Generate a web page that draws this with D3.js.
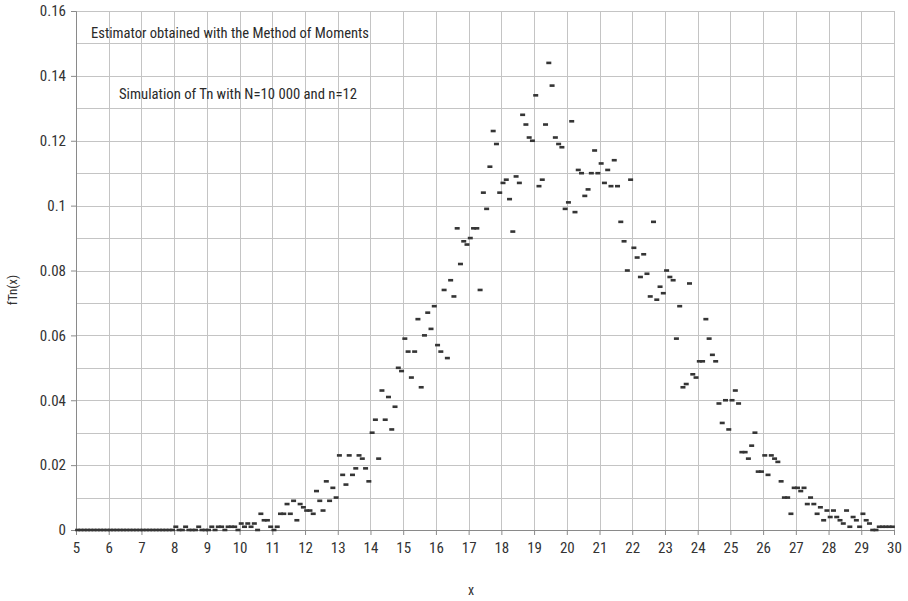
<!DOCTYPE html>
<html><head><meta charset="utf-8">
<script src="https://cdn.jsdelivr.net/npm/d3@7"></script>
<style>body{margin:0;background:#fff} svg{display:block}</style>
</head><body><svg id="c" width="908" height="601"></svg>
<script>
// bin centres of the simulated estimator (bins of width 0.1 from 5 to 30)
const binCenters = [
 5.05,5.15,5.25,5.35,5.45,5.55,5.65,5.75,5.85,5.95,
 6.05,6.15,6.25,6.35,6.45,6.55,6.65,6.75,6.85,6.95,
 7.05,7.15,7.25,7.35,7.45,7.55,7.65,7.75,7.85,7.95,
 8.05,8.15,8.25,8.35,8.45,8.55,8.65,8.75,8.85,8.95,
 9.05,9.15,9.25,9.35,9.45,9.55,9.65,9.75,9.85,9.95,
 10.05,10.15,10.25,10.35,10.45,10.55,10.65,10.75,10.85,10.95,
 11.05,11.15,11.25,11.35,11.45,11.55,11.65,11.75,11.85,11.95,
 12.05,12.15,12.25,12.35,12.45,12.55,12.65,12.75,12.85,12.95,
 13.05,13.15,13.25,13.35,13.45,13.55,13.65,13.75,13.85,13.95,
 14.05,14.15,14.25,14.35,14.45,14.55,14.65,14.75,14.85,14.95,
 15.05,15.15,15.25,15.35,15.45,15.55,15.65,15.75,15.85,15.95,
 16.05,16.15,16.25,16.35,16.45,16.55,16.65,16.75,16.85,16.95,
 17.05,17.15,17.25,17.35,17.45,17.55,17.65,17.75,17.85,17.95,
 18.05,18.15,18.25,18.35,18.45,18.55,18.65,18.75,18.85,18.95,
 19.05,19.15,19.25,19.35,19.45,19.55,19.65,19.75,19.85,19.95,
 20.05,20.15,20.25,20.35,20.45,20.55,20.65,20.75,20.85,20.95,
 21.05,21.15,21.25,21.35,21.45,21.55,21.65,21.75,21.85,21.95,
 22.05,22.15,22.25,22.35,22.45,22.55,22.65,22.75,22.85,22.95,
 23.05,23.15,23.25,23.35,23.45,23.55,23.65,23.75,23.85,23.95,
 24.05,24.15,24.25,24.35,24.45,24.55,24.65,24.75,24.85,24.95,
 25.05,25.15,25.25,25.35,25.45,25.55,25.65,25.75,25.85,25.95,
 26.05,26.15,26.25,26.35,26.45,26.55,26.65,26.75,26.85,26.95,
 27.05,27.15,27.25,27.35,27.45,27.55,27.65,27.75,27.85,27.95,
 28.05,28.15,28.25,28.35,28.45,28.55,28.65,28.75,28.85,28.95,
 29.05,29.15,29.25,29.35,29.45,29.55,29.65,29.75,29.85,29.95
];
// estimated density fTn(x)
const density = [
 0,0,0,0,0,0,0,0,0,0,
 0,0,0,0,0,0,0,0,0,0,
 0,0,0,0,0,0,0,0,0,0,
 0.001,0,0,0.001,0,0,0,0.001,0,0,
 0,0.001,0,0.001,0.001,0,0.001,0.001,0.001,0,
 0.002,0.001,0.002,0.001,0.002,0,0.005,0.003,0.003,0.001,
 0,0.001,0.005,0.005,0.008,0.005,0.009,0.003,0.008,0.007,
 0.006,0.006,0.005,0.012,0.009,0.006,0.015,0.009,0.013,0.010,
 0.023,0.017,0.014,0.023,0.017,0.019,0.023,0.022,0.019,0.015,
 0.030,0.034,0.022,0.043,0.034,0.041,0.031,0.038,0.050,0.049,
 0.059,0.055,0.047,0.055,0.065,0.044,0.060,0.067,0.062,0.069,
 0.057,0.055,0.074,0.053,0.077,0.072,0.093,0.082,0.089,0.088,
 0.090,0.093,0.093,0.074,0.104,0.099,0.112,0.123,0.119,0.104,
 0.107,0.108,0.102,0.092,0.109,0.107,0.128,0.125,0.121,0.120,
 0.134,0.106,0.108,0.125,0.144,0.137,0.121,0.119,0.118,0.099,
 0.101,0.126,0.098,0.111,0.110,0.103,0.105,0.110,0.117,0.110,
 0.113,0.107,0.111,0.106,0.114,0.106,0.095,0.089,0.080,0.108,
 0.087,0.084,0.078,0.085,0.079,0.072,0.095,0.071,0.075,0.073,
 0.080,0.078,0.077,0.059,0.069,0.044,0.045,0.076,0.048,0.047,
 0.052,0.052,0.065,0.059,0.054,0.052,0.039,0.033,0.040,0.031,
 0.040,0.043,0.039,0.024,0.024,0.022,0.026,0.030,0.018,0.018,
 0.023,0.017,0.023,0.022,0.021,0.015,0.010,0.010,0.005,0.013,
 0.013,0.012,0.013,0.008,0.010,0.008,0.005,0.007,0.003,0.006,
 0.004,0.006,0.004,0.003,0.002,0.006,0.001,0.004,0.003,0.001,
 0.005,0.003,0.002,0,0,0.001,0.001,0.001,0.001,0.001
];
const xTicks = [5,6,7,8,9,10,11,12,13,14,15,16,17,18,19,20,21,22,23,24,25,26,27,28,29,30];
const yTicks = [0,0.02,0.04,0.06,0.08,0.1,0.12,0.14,0.16];
const yGrid = [0,0.01,0.02,0.03,0.04,0.05,0.06,0.07,0.08,0.09,0.1,0.11,0.12,0.13,0.14,0.15,0.16];
const yTickLabels = ["0","0.02","0.04","0.06","0.08","0.1","0.12","0.14","0.16"];
const titleText = "Estimator obtained with the Method of Moments";
const subtitleText = "Simulation of Tn with N=10 000 and n=12";
const xTitle = "x";
const yTitle = "fTn(x)";

const FONT = "'Liberation Sans Narrow','Roboto Condensed','DejaVu Sans Condensed','Liberation Sans',sans-serif";
const svg = d3.select("#c");
svg.append("rect").attr("width",908).attr("height",601).attr("fill","#fff");

const x = d3.scaleLinear().domain([5,30]).range([76,894]);
const y = d3.scaleLinear().domain([0,0.16]).range([530,11]);

const grid = svg.append("g").attr("shape-rendering","crispEdges");
grid.selectAll("line.h").data(yGrid).join("line")
  .attr("x1",x(5)).attr("x2",x(30))
  .attr("y1",d=>Math.round(y(d))+0.5).attr("y2",d=>Math.round(y(d))+0.5)
  .attr("stroke","#c4c4c4").attr("stroke-width",1);
grid.selectAll("line.v").data(xTicks).join("line")
  .attr("x1",d=>Math.round(x(d))+0.5).attr("x2",d=>Math.round(x(d))+0.5)
  .attr("y1",y(0.16)).attr("y2",y(0))
  .attr("stroke","#c4c4c4").attr("stroke-width",1);

// axes
const xAxis = d3.axisBottom(x).tickValues(xTicks).tickSize(5).tickPadding(7).tickFormat(d3.format("d"));
const gx = svg.append("g").attr("transform",`translate(0,${y(0)})`).call(xAxis);
const yAxis = d3.axisLeft(y).tickValues(yTicks).tickSize(5).tickPadding(5)
  .tickFormat((d,i)=>yTickLabels[i]);
const gy = svg.append("g").attr("transform",`translate(${x(5)},0)`).call(yAxis);
[gx,gy].forEach(g=>{
  g.select(".domain").attr("stroke","#8a8a8a");
  g.selectAll(".tick line").attr("stroke","#8a8a8a");
  g.selectAll(".tick text").attr("font-family",FONT).attr("font-size",15).attr("fill","#333");
});

// markers (short dashes)
svg.append("g").selectAll("rect").data(density).join("rect")
  .attr("x",(d,i)=>x(binCenters[i])-2.5)
  .attr("y",d=>y(d)-1.3)
  .attr("width",5).attr("height",2.6)
  .attr("fill","#353535");

// texts
svg.append("text").attr("x",91).attr("y",38).attr("font-family",FONT).attr("font-size",15)
  .attr("fill","#2a2a2a").attr("textLength",278).attr("lengthAdjust","spacingAndGlyphs").text(titleText);
svg.append("text").attr("x",119).attr("y",99).attr("font-family",FONT).attr("font-size",15)
  .attr("fill","#2a2a2a").attr("textLength",238).attr("lengthAdjust","spacingAndGlyphs").text(subtitleText);
svg.append("text").attr("x",471).attr("y",595).attr("text-anchor","middle").attr("font-family",FONT)
  .attr("font-size",14).attr("fill","#333").text(xTitle);
svg.append("text").attr("transform","translate(17,290) rotate(-90)").attr("text-anchor","middle")
  .attr("font-family",FONT).attr("font-size",13).attr("fill","#333").text(yTitle);
</script>
</body></html>
